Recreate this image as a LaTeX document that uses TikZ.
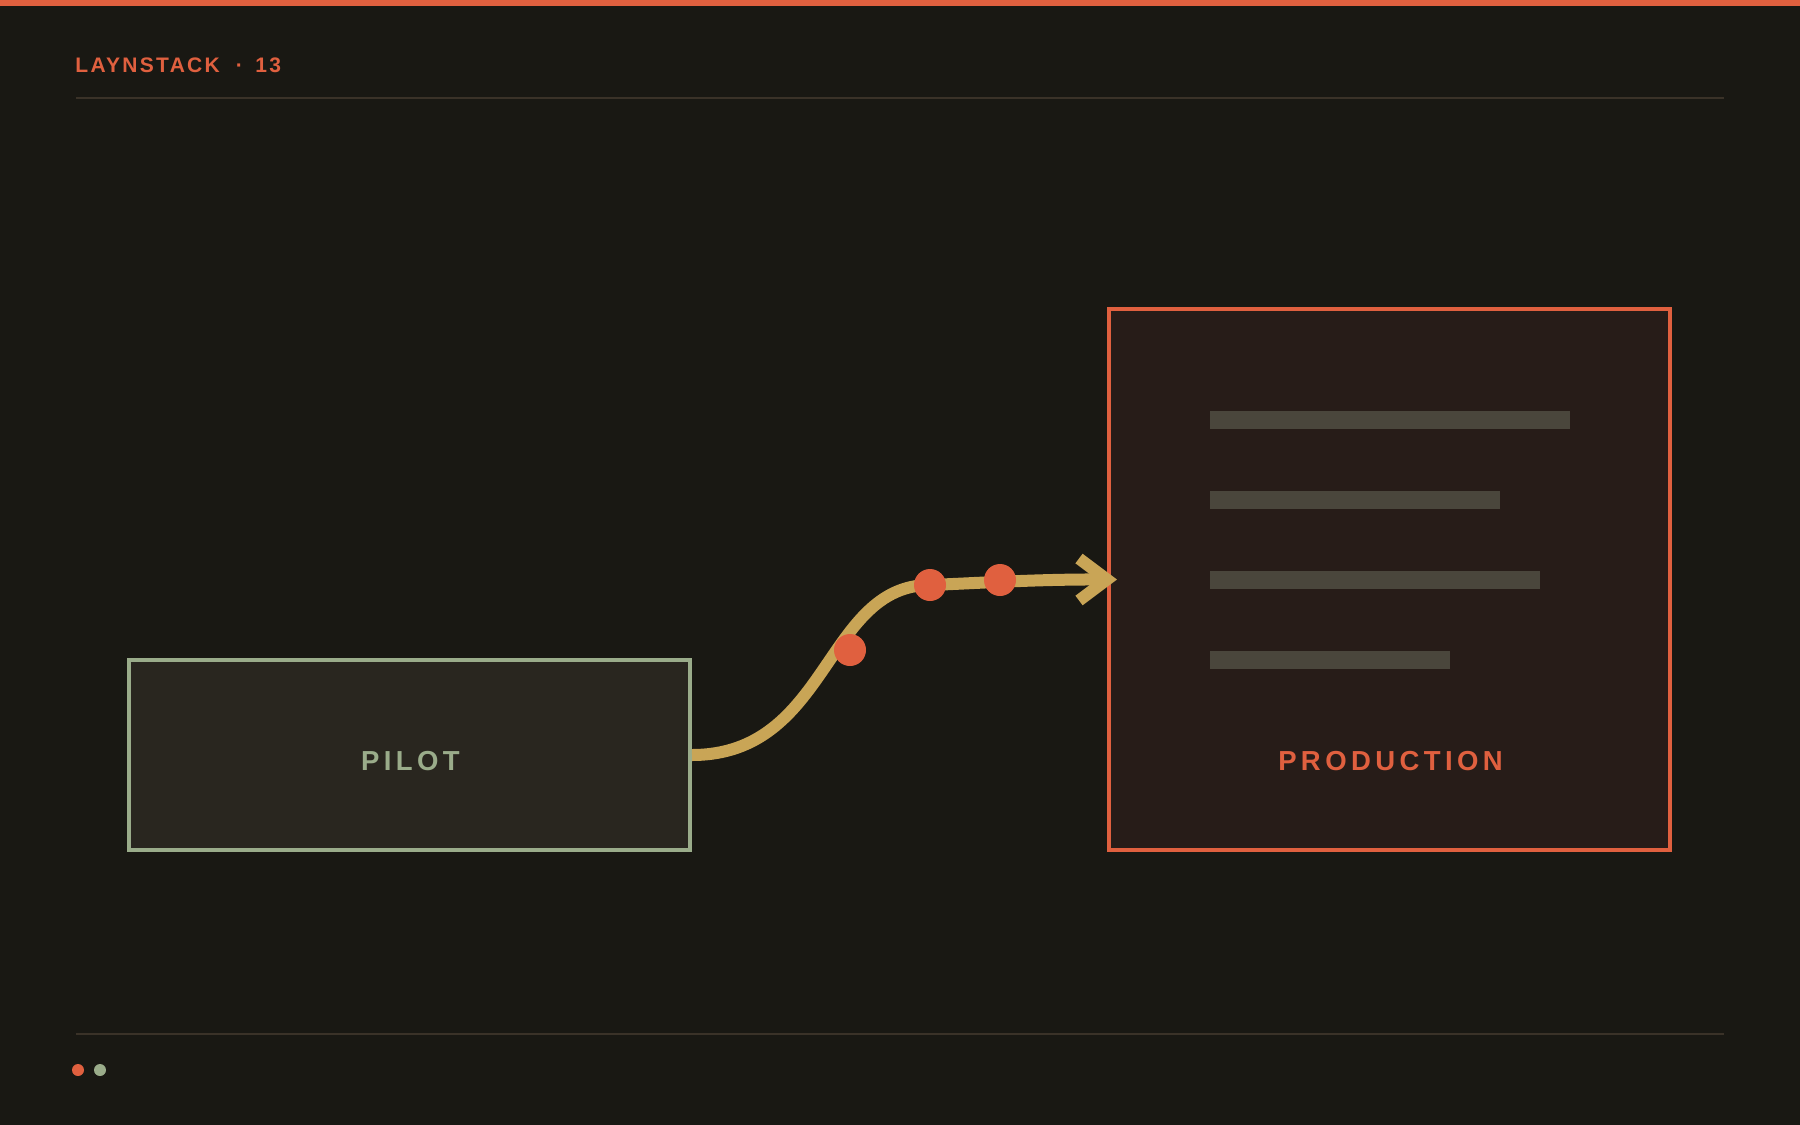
\documentclass[tikz,border=0pt]{standalone}
\usepackage{fontspec}
\setmainfont{Liberation Sans}
\newfontfamily\capsfont{Liberation Sans}[LetterSpace=16]
\newfontfamily\titlefont{Liberation Sans}[LetterSpace=11]
\usepackage{tikz}

\definecolor{bg}{HTML}{191813}
\definecolor{accent}{HTML}{E0603F}
\definecolor{rulecol}{HTML}{3A3228}
\definecolor{sage}{HTML}{9AAC8A}
\definecolor{pilotfill}{HTML}{29261F}
\definecolor{prodfill}{HTML}{271C18}
\definecolor{barcol}{HTML}{4A463C}
\definecolor{gold}{HTML}{C9A556}

\begin{document}
\begin{tikzpicture}[x=1pt, y=-1pt,
    stage/.style={rectangle, line width=4pt, minimum width=561pt, inner sep=0pt},
    stagelabel/.style={anchor=base, inner sep=0pt, font=\capsfont\bfseries\fontsize{27.5}{30}\selectfont},
    flow/.style={draw=gold, line width=12pt},
    dot/.style={circle, fill=accent, minimum size=32pt, inner sep=0pt}]
                \fill[bg] (0,0) rectangle (1800,1125);
                \useasboundingbox (0,0) rectangle (1800,1125);
                \fill[accent] (0,0) rectangle (1800,6);
                \node[anchor=base west, inner sep=0pt, text=accent, font=\titlefont\bfseries\fontsize{21}{24}\selectfont] (title) at (75.2,72.3) {LAYNSTACK\hspace{16pt}·\hspace{12.5pt}13};
                \draw[rulecol, line width=2pt] (76,98) -- (1724,98);
                \draw[rulecol, line width=2pt] (76,1034) -- (1724,1034);
                \fill[accent] (78,1070) circle (6);
                \fill[sage] (100,1070) circle (6);
                % the two stages
                \node[stage, draw=sage, fill=pilotfill, minimum height=190pt] (pilot) at (409.5,755) {};
                \node[stagelabel, text=sage] (pilotname) at (410.5,770) {PILOT};
                \node[stage, draw=accent, fill=prodfill, minimum height=541pt] (prod) at (1389.5,579.5) {};
                \foreach \i/\len in {0/360, 1/290, 2/330, 3/240} {
                    \pgfmathsetmacro{\y}{411 + 80*\i}
                    \fill[barcol] (1210,\y) rectangle ++(\len,18);
                }
                \node[stagelabel, text=accent] (prodname) at (1390.5,770) {PRODUCTION};
                % connector
                \coordinate (bend) at (930,585);
                \draw[flow] (pilot.east) .. controls (829,755) and (825,585) .. (bend)
                    .. controls (980,583) and (1040,579) .. (prod.west);
                \draw[flow, line join=miter] ([shift={(-28,-21)}]prod.west) -- (prod.west) -- ([shift={(-28,21)}]prod.west);
                \foreach \n/\p in {d1/{(850,650)}, d2/{(930,585)}, d3/{(1000,580)}} {
                    \node[dot] (\n) at \p {};
                }
            \end{tikzpicture}
\end{document}
